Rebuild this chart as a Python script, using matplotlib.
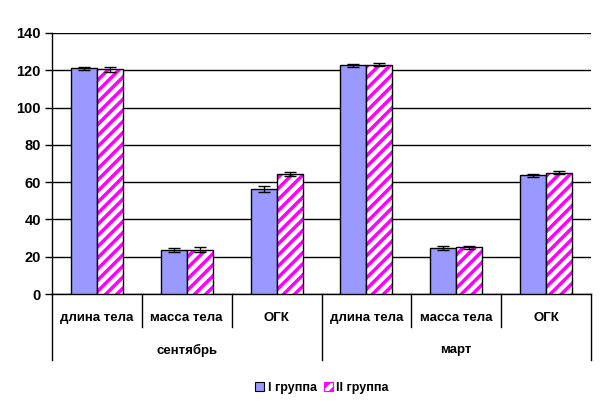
import numpy as np
import matplotlib
matplotlib.use('Agg')
import matplotlib.pyplot as plt
from matplotlib.patches import Patch

plt.rcParams['font.family'] = ['Liberation Sans', 'DejaVu Sans']
plt.rcParams['font.weight'] = 'bold'
plt.rcParams['hatch.linewidth'] = 2.5

categories = ['длина тела', 'масса тела', 'ОГК', 'длина тела', 'масса тела', 'ОГК']
groups = ['сентябрь', 'март']
series_names = ['I группа', 'II группа']
group1 = [121.0, 23.5, 56.2, 122.8, 24.6, 63.6]
group2 = [120.6, 23.7, 64.4, 123.1, 25.0, 65.0]
err1 = [1.0, 1.0, 1.6, 0.8, 1.0, 1.0]
err2 = [1.3, 1.3, 1.0, 1.0, 0.9, 0.8]
yticks = [0, 20, 40, 60, 80, 100, 120, 140]

blue = '#9999FF'
magenta = '#FF00FF'

fig = plt.figure(figsize=(6.07, 4.12), dpi=100)
ax = fig.add_axes([52 / 607, 1 - 294 / 412, 539 / 607, 261 / 412])

x = np.arange(len(categories))
w = 0.29
ax.bar(x - w / 2, group1, w, color=blue, edgecolor='black', linewidth=1.0, zorder=3)
ax.bar(x + w / 2, group2, w, color='white', edgecolor=magenta, hatch='///', linewidth=0, zorder=3)
ax.bar(x + w / 2, group2, w, fill=False, edgecolor='black', linewidth=1.0, zorder=4)
ax.errorbar(x - w / 2, group1, yerr=err1, fmt='none', ecolor='black', elinewidth=1, capsize=4, capthick=1, zorder=5)
ax.errorbar(x + w / 2, group2, yerr=err2, fmt='none', ecolor='black', elinewidth=1, capsize=4, capthick=1, zorder=5)

ax.set_xlim(-0.5, len(categories) - 0.5)
ax.set_ylim(0, 140)
ax.set_yticks(yticks)
ax.set_yticklabels([str(t) for t in yticks], fontsize=10.5, fontweight='bold')
ax.tick_params(axis='y', length=5, width=1, pad=3)
ax.yaxis.grid(True, color='black', linewidth=1, zorder=0)
ax.set_axisbelow(True)
ax.set_xticks([])
for s in ['top', 'right']:
    ax.spines[s].set_visible(False)
ax.spines['left'].set_linewidth(1)
ax.spines['bottom'].set_linewidth(1)

# category / group labels under the axis
trans = ax.get_xaxis_transform()
px = 1 / 261
for i, c in enumerate(categories):
    ax.text(i, -24 * px, c, transform=trans, ha='center', va='center', fontsize=9.5, fontweight='bold')
for b in range(len(categories) + 1):
    low = -66 * px if b % 3 == 0 else -33 * px
    ax.plot([b - 0.5, b - 0.5], [0, low], transform=trans, color='black', linewidth=1, clip_on=False)
for g, name in enumerate(groups):
    ax.text(3 * g + 1, -56 * px, name, transform=trans, ha='center', va='center', fontsize=9.5, fontweight='bold')

handles = [Patch(facecolor=blue, edgecolor='black', linewidth=0.8),
           Patch(facecolor='white', edgecolor=magenta, hatch='///', linewidth=0.8)]
fig.legend(handles, series_names, loc='center', bbox_to_anchor=(322 / 607, 1 - 388 / 412), ncol=2,
           frameon=False, handlelength=0.7, handleheight=0.7, handletextpad=0.3,
           columnspacing=0.6, prop={'weight': 'bold', 'size': 9})

fig.savefig('out.png', dpi=100)
